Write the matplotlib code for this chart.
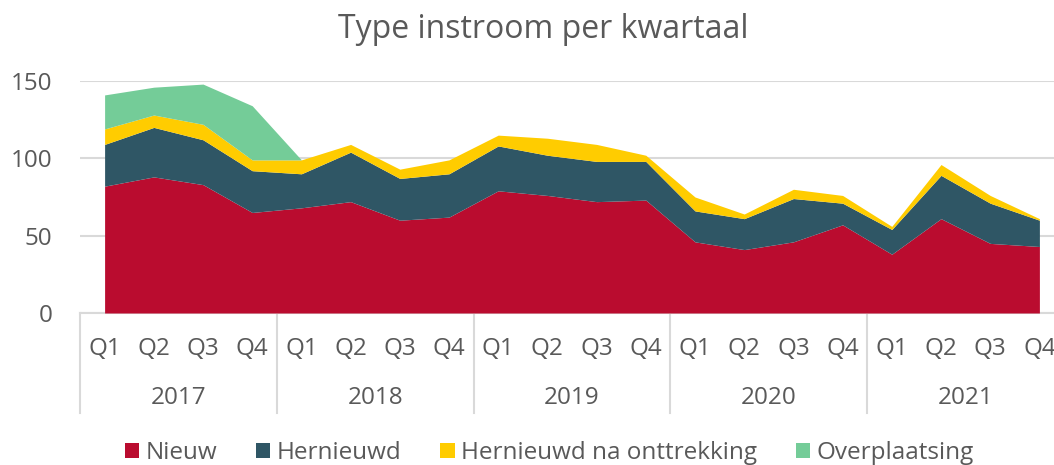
import numpy as np
import matplotlib
matplotlib.use("Agg")
from matplotlib import pyplot as plt
from matplotlib.patches import Patch

plt.rcParams['font.family'] = ['Open Sans', 'DejaVu Sans']

jaren = ["2017", "2018", "2019", "2020", "2021"]
kwartalen = ["Q1", "Q2", "Q3", "Q4"]

nieuw = [82, 88, 83, 65, 68, 72, 60, 62, 79, 76, 72, 73, 46, 41, 46, 57, 38, 61, 45, 43]
hernieuwd = [27, 32, 29, 27, 22, 32, 27, 28, 29, 26, 26, 25, 20, 20, 28, 14, 16, 28, 26, 17]
na_onttrekking = [10, 8, 10, 7, 9, 5, 6, 9, 7, 11, 11, 4, 9, 3, 6, 5, 2, 7, 5, 1]
overplaatsing = [22, 18, 26, 35, 0, 0, 0, 0, 0, 0, 0, 0, 0, 0, 0, 0, 0, 0, 0, 0]

reeks_namen = ["Nieuw", "Hernieuwd", "Hernieuwd na onttrekking", "Overplaatsing"]
kleuren = ["#BA0C2F", "#2F5665", "#FFCC00", "#74CC98"]
tekst_kleur = "#595959"
grid_kleur = "#D9D9D9"

x = np.arange(len(nieuw))

fig = plt.figure(figsize=(10.54, 4.65), dpi=100)
ax = fig.add_axes([80 / 1054, 152 / 465, 984 / 1054, 232 / 465])

# overplaatsing stops after Q1 2018
n_over = 5
series = [nieuw, hernieuwd, na_onttrekking]
onder = np.zeros(len(x))
for waarden, kleur in zip(series, kleuren[:3]):
    boven = onder + np.array(waarden)
    ax.fill_between(x, onder, boven, color=kleur, linewidth=0, zorder=3)
    onder = boven
ax.fill_between(x[:n_over], onder[:n_over], onder[:n_over] + np.array(overplaatsing[:n_over]),
                color=kleuren[3], linewidth=0, zorder=3)

ax.set_xlim(-0.5, len(x) - 0.5)
ax.set_ylim(0, 150)
ax.set_yticks([0, 50, 100, 150])
ax.yaxis.grid(True, color=grid_kleur, linewidth=1.5, zorder=0)
ax.set_axisbelow(True)
for s in ["top", "right", "left"]:
    ax.spines[s].set_visible(False)
ax.spines["bottom"].set_color(grid_kleur)
ax.spines["bottom"].set_linewidth(1.5)
ax.tick_params(axis="y", length=0, pad=20, labelsize=17.5, labelcolor=tekst_kleur)

ax.set_xticks(x)
ax.set_xticklabels(kwartalen * len(jaren))
ax.tick_params(axis="x", length=0, pad=17, labelsize=17.5, labelcolor=tekst_kleur)

# jaartallen en scheidingslijnen
trans = ax.get_xaxis_transform()
for i, jaar in enumerate(jaren):
    ax.text(i * 4 + 1.5, -0.365, jaar, transform=trans, ha="center", va="center",
            fontsize=17.5, color=tekst_kleur)
for i in range(len(jaren) + 1):
    ax.plot([i * 4 - 0.5, i * 4 - 0.5], [0, -0.43], transform=trans, color=grid_kleur,
            linewidth=1.5, clip_on=False)

fig.text(543 / 1054, 1 - 30 / 465, "Type instroom per kwartaal", ha="center", va="center",
         fontsize=23, color=tekst_kleur)

handles = [Patch(facecolor=k, edgecolor="none") for k in kleuren]
fig.legend(handles, reeks_namen, loc="center", bbox_to_anchor=(549 / 1054, 1 - 453 / 465),
           ncol=4, frameon=False, fontsize=17.5, labelcolor=tekst_kleur,
           handlelength=0.6, handleheight=0.6, handletextpad=0.25, columnspacing=1.6)

fig.savefig("out.png", dpi=100)
